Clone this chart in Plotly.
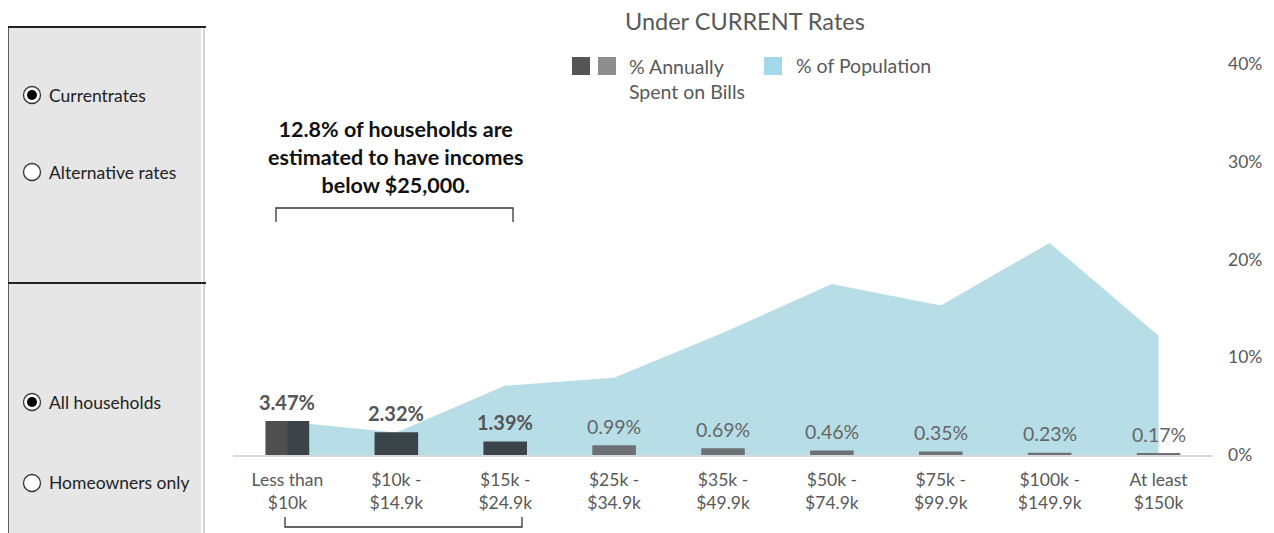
import plotly.graph_objects as go

# income brackets and values
brackets = ["Less than<br>$10k", "$10k -<br>$14.9k", "$15k -<br>$24.9k", "$25k -<br>$34.9k",
            "$35k -<br>$49.9k", "$50k -<br>$74.9k", "$75k -<br>$99.9k", "$100k -<br>$149.9k",
            "At least<br>$150k"]
bill_pct = [3.47, 2.32, 1.39, 0.99, 0.69, 0.46, 0.35, 0.23, 0.17]
pop_pct = [3.4, 2.3, 7.1, 7.9, 12.5, 17.5, 15.3, 21.7, 12.2]
y_ticks = [0, 10, 20, 30, 40]

FONT = "Lato"
W, H = 1274, 533
OFF = 8  # page body margin
L, R, T, B = 233 - OFF, 1213 - OFF, 64 - OFF, 455 - OFF  # plot area in pixels


def px(x):
    return (x - OFF - L) / (R - L)


def py(y):
    return (B - (y - OFF)) / (B - T)


bar_colors = ["#3b4448"] * 3 + ["#6b7174"] * 6

fig = go.Figure()

fig.add_trace(go.Scatter(
    x=brackets, y=pop_pct, mode="lines", fill="tozeroy",
    line=dict(width=0, color="#b7dde7"), fillcolor="#b7dde7",
    name="% of Population", hoverinfo="skip"))

fig.add_trace(go.Bar(
    x=brackets, y=bill_pct, width=0.4, marker_color=bar_colors, marker_line_width=0,
    name="% Annually Spent on Bills", yaxis="y2", hoverinfo="skip"))

# darker left half of the first bar
fig.add_trace(go.Bar(
    x=brackets[:1], y=bill_pct[:1], width=0.2, offset=-0.2,
    marker_color="#4f4f4f", marker_line_width=0, hoverinfo="skip", yaxis="y2"))

shapes = []
annotations = []

# value labels above the bars
for i, (cat, v) in enumerate(zip(brackets, bill_pct)):
    bold = i < 3
    annotations.append(dict(
        x=cat, y=v, xref="x", yref="y2", yanchor="middle", yshift=19,
        text=f"<b>{v:.2f}%</b>" if bold else f"{v:.2f}%", showarrow=False,
        font=dict(size=20 if bold else 19.5, color="#555555" if bold else "#666666", family=FONT)))

# left control panel
shapes.append(dict(type="rect", xref="paper", yref="paper", x0=px(8), x1=px(201),
                   y0=py(545), y1=py(27), fillcolor="#e6e6e6", line_width=0, layer="below"))
shapes.append(dict(type="line", xref="paper", yref="paper", x0=px(204), x1=px(204),
                   y0=py(545), y1=py(27), line=dict(color="#d4d4d4", width=2)))
shapes.append(dict(type="line", xref="paper", yref="paper", x0=px(8), x1=px(8),
                   y0=py(545), y1=py(27), line=dict(color="#333333", width=1.5)))
for yy in (27, 283):
    shapes.append(dict(type="line", xref="paper", yref="paper", x0=px(8), x1=px(206),
                       y0=py(yy), y1=py(yy), line=dict(color="#222222", width=2)))

radios = [("Currentrates", 95, True), ("Alternative rates", 172, False),
          ("All households", 402, True), ("Homeowners only", 483, False)]
for label, yy, on in radios:
    cx = 32
    shapes.append(dict(type="circle", xref="paper", yref="paper",
                       x0=px(cx - 8.5), x1=px(cx + 8.5), y0=py(yy + 8.5), y1=py(yy - 8.5),
                       fillcolor="white", line=dict(color="#333333", width=1.3)))
    if on:
        shapes.append(dict(type="circle", xref="paper", yref="paper",
                           x0=px(cx - 5), x1=px(cx + 5), y0=py(yy + 5), y1=py(yy - 5),
                           fillcolor="black", line_width=0))
    annotations.append(dict(text=label, xref="paper", yref="paper", x=px(47), y=py(yy),
                            xanchor="left", yanchor="middle", showarrow=False,
                            font=dict(size=17.5, color="#222222", family=FONT)))

# legend
for x0, col in ((572, "#555555"), (598, "#8e8e8e"), (764, "#a5d8ea")):
    shapes.append(dict(type="rect", xref="paper", yref="paper", x0=px(x0), x1=px(x0 + 18),
                       y0=py(75), y1=py(57), fillcolor=col, line_width=0))
annotations.append(dict(text="% Annually<br>Spent on Bills", xref="paper", yref="paper",
                        x=px(627), y=py(53), xanchor="left", yanchor="top", align="left",
                        showarrow=False, font=dict(size=19.5, color="#595959", family=FONT)))
annotations.append(dict(text="% of Population", xref="paper", yref="paper",
                        x=px(794), y=py(52), xanchor="left", yanchor="top", align="left",
                        showarrow=False, font=dict(size=19.5, color="#595959", family=FONT)))

# callout
annotations.append(dict(text="<b>12.8% of households are<br>estimated to have incomes<br>below $25,000.</b>",
                        xref="paper", yref="paper", x=px(395), y=py(157), xanchor="center",
                        yanchor="middle", showarrow=False,
                        font=dict(size=21.5, color="#111111", family=FONT)))
shapes.append(dict(type="path", xref="paper", yref="paper",
                   path=f"M {px(276)},{py(222)} L {px(276)},{py(208)} L {px(513)},{py(208)} L {px(513)},{py(222)}",
                   line=dict(color="#333333", width=1.3)))
shapes.append(dict(type="path", xref="paper", yref="paper",
                   path=f"M {px(285)},{py(517)} L {px(285)},{py(527)} L {px(522)},{py(527)} L {px(522)},{py(517)}",
                   line=dict(color="#333333", width=1.3)))

# title as an annotation so it is not clipped
annotations.append(dict(text="Under CURRENT Rates", xref="paper", yref="paper",
                        x=px(745), y=py(21), xanchor="center", yanchor="middle", showarrow=False,
                        font=dict(size=23.5, color="#595959", family=FONT)))

fig.update_layout(
    width=W, height=H,
    margin=dict(l=L, r=W - R, t=T, b=H - B),
    barmode="overlay",
    showlegend=False,
    paper_bgcolor="white", plot_bgcolor="white",
    font=dict(family=FONT, color="#595959"),
    xaxis=dict(range=[-0.5, 8.5], showgrid=False, zeroline=False, showline=True,
               linecolor="#d9d9d9", linewidth=1.5, ticks="", ticklabelstandoff=8,
               tickfont=dict(size=17.5, color="#595959")),
    yaxis=dict(range=[0, 40], side="right", tickvals=y_ticks,
               ticktext=[f"{v}%" for v in y_ticks],
               showgrid=False, zeroline=False, showline=False, ticklabelstandoff=14,
               tickfont=dict(size=17.5, color="#595959")),
    yaxis2=dict(range=[0, 40], overlaying="y", visible=False),
    shapes=shapes,
    annotations=annotations,
)

fig.write_html("out.html")
